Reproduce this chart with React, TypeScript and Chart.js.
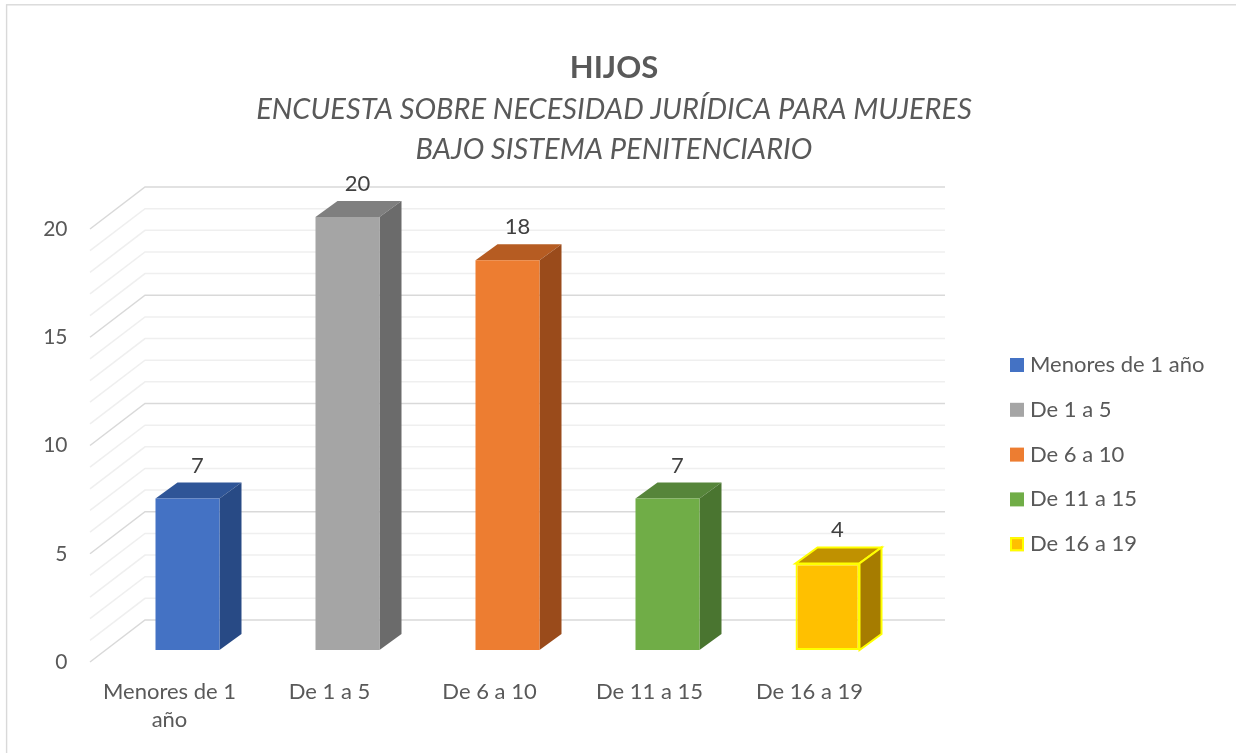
import React, { useEffect, useRef } from 'react';
import { Chart, registerables } from 'chart.js';

Chart.register(...registerables);

const categories = ['Menores de 1 año', 'De 1 a 5', 'De 6 a 10', 'De 11 a 15', 'De 16 a 19'];
const tickLabels = [['Menores de 1', 'año'], ['De 1 a 5'], ['De 6 a 10'], ['De 11 a 15'], ['De 16 a 19']];
const values = [7, 20, 18, 7, 4];
const frontColors = ['#4472C4', '#A5A5A5', '#ED7D31', '#70AD47', '#FFC000'];
const topColors = ['#2F5597', '#7F7F7F', '#B65C22', '#56853A', '#C09100'];
const sideColors = ['#284A85', '#6B6B6B', '#9A4B1B', '#4A7530', '#A67C00'];
const outlineColors = ['', '', '', '', '#FFFF00'];
const yTickValues = [0, 5, 10, 15, 20];
const titleText = 'HIJOS';
const subtitleLines = ['ENCUESTA SOBRE NECESIDAD JURÍDICA PARA MUJERES', 'BAJO SISTEMA PENITENCIARIO'];

const FONT = 'Lato, "Open Sans", sans-serif';
const TEXT = '#595959';
const DX = 22;
const DY = -16;
const WALL_DX = 37.5;
const WALL_DY = -30;
const AXIS_X = 90;
const AXIS_DY = 12;

const deco = {
  id: 'deco3d',
  beforeDraw(chart: any) {
    const { ctx, width, height } = chart;
    ctx.save();
    ctx.fillStyle = '#ffffff';
    ctx.fillRect(0, 0, width, height);
    ctx.strokeStyle = '#d9d9d9';
    ctx.lineWidth = 1.4;
    ctx.strokeRect(6.6, 4.8, 2000, 2000);
    ctx.restore();
  },
  beforeDatasetsDraw(chart: any) {
    const { ctx, chartArea, scales } = chart;
    const y = scales.y;
    const wallL = chartArea.left + WALL_DX;
    const wallR = chartArea.right + WALL_DX;
    ctx.save();
    const max = yTickValues[yTickValues.length - 1];
    for (let v = 0; v <= max; v++) {
      const py = y.getPixelForValue(v);
      const major = v % 5 === 0;
      ctx.strokeStyle = major ? '#d9d9d9' : '#efefef';
      ctx.lineWidth = 1.5;
      ctx.beginPath();
      ctx.moveTo(AXIS_X, py + AXIS_DY);
      ctx.lineTo(wallL, py + WALL_DY);
      ctx.lineTo(wallR, py + WALL_DY);
      ctx.stroke();
    }
    const meta = chart.getDatasetMeta(0);
    meta.data.forEach((bar: any, i: number) => {
      const p = bar.getProps(['x', 'y', 'base', 'width'], true);
      const x0 = p.x - p.width / 2;
      const x1 = p.x + p.width / 2;
      const yt = p.y;
      const yb = p.base;
      ctx.beginPath();
      ctx.moveTo(x0, yt);
      ctx.lineTo(x1, yt);
      ctx.lineTo(x1 + DX, yt + DY);
      ctx.lineTo(x0 + DX, yt + DY);
      ctx.closePath();
      ctx.fillStyle = topColors[i];
      ctx.fill();
      if (outlineColors[i]) {
        ctx.strokeStyle = outlineColors[i];
        ctx.lineWidth = 2;
        ctx.stroke();
      }
      ctx.beginPath();
      ctx.moveTo(x1, yt);
      ctx.lineTo(x1 + DX, yt + DY);
      ctx.lineTo(x1 + DX, yb + DY);
      ctx.lineTo(x1, yb);
      ctx.closePath();
      ctx.fillStyle = sideColors[i];
      ctx.fill();
      if (outlineColors[i]) {
        ctx.strokeStyle = outlineColors[i];
        ctx.lineWidth = 2;
        ctx.stroke();
      }
    });
    ctx.restore();
  },
  afterDatasetsDraw(chart: any) {
    const { ctx } = chart;
    ctx.save();
    const meta = chart.getDatasetMeta(0);
    ctx.fillStyle = '#404040';
    ctx.font = `22px ${FONT}`;
    ctx.textAlign = 'center';
    ctx.textBaseline = 'middle';
    meta.data.forEach((bar: any, i: number) => {
      const p = bar.getProps(['x', 'y'], true);
      ctx.fillText(String(values[i]), p.x + 10, p.y - 33);
    });
    ctx.fillStyle = TEXT;
    ctx.font = `bold 31px ${FONT}`;
    ctx.fillText(titleText, 614, 68);
    ctx.font = `italic 29px ${FONT}`;
    subtitleLines.forEach((line, i) => ctx.fillText(line, 614, 110 + i * 40));
    ctx.textAlign = 'left';
    ctx.font = `22px ${FONT}`;
    categories.forEach((c, i) => {
      const cy = 365 + i * 44.8;
      ctx.fillStyle = frontColors[i];
      ctx.fillRect(1010, cy - 7, 14, 14);
      if (outlineColors[i]) {
        ctx.strokeStyle = outlineColors[i];
        ctx.lineWidth = 2;
        ctx.strokeRect(1011, cy - 6, 12, 12);
      }
      ctx.fillStyle = TEXT;
      ctx.fillText(c, 1030, cy);
    });
    ctx.restore();
  },
};

export default function App() {
  const ref = useRef<HTMLCanvasElement>(null);
  useEffect(() => {
    if (!ref.current) return;
    const chart = new Chart(ref.current, {
      type: 'bar',
      data: {
        labels: tickLabels as any,
        datasets: [
          {
            data: values,
            backgroundColor: frontColors,
            borderColor: outlineColors.map((c) => c || 'rgba(0,0,0,0)'),
            borderWidth: outlineColors.map((c) => (c ? 2 : 0)),
            borderSkipped: false,
            barPercentage: 0.4,
            categoryPercentage: 1,
          },
        ],
      },
      options: {
        responsive: false,
        animation: false,
        devicePixelRatio: 1,
        layout: { padding: { left: 17.5, right: 328.5, top: 217, bottom: 0 } },
        plugins: { legend: { display: false }, title: { display: false }, tooltip: { enabled: false } },
        scales: {
          x: {
            grid: { display: false, drawTicks: false },
            border: { display: false },
            ticks: {
              color: TEXT,
              font: { family: FONT, size: 22, lineHeight: 1.27 },
              padding: 28,
              labelOffset: -18,
              maxRotation: 0,
              minRotation: 0,
              autoSkip: false,
            },
            afterFit: (s: any) => {
              s.height = 103;
            },
          },
          y: {
            min: 0,
            max: 20,
            grid: { display: false, drawTicks: false },
            border: { display: false },
            afterBuildTicks: (s: any) => {
              s.ticks = yTickValues.map((v) => ({ value: v }));
            },
            ticks: {
              color: TEXT,
              font: { family: FONT, size: 21 },
              padding: 40,
              labelOffset: 12,
            },
            afterFit: (s: any) => {
              s.width = 90;
            },
          },
        },
      },
      plugins: [deco],
    });
    return () => chart.destroy();
  }, []);
  return (
    <div style={{ position: 'fixed', left: 0, top: 0, width: 1236, height: 753 }}>
      <canvas ref={ref} width={1236} height={753} style={{ display: 'block' }} />
    </div>
  );
}
